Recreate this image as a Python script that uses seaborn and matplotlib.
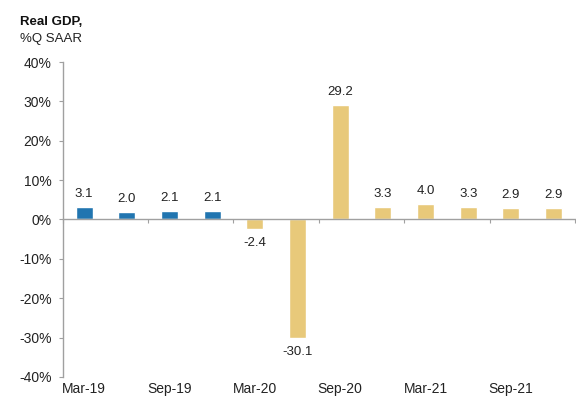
import matplotlib
matplotlib.use("Agg")
import matplotlib.pyplot as plt
import seaborn as sns
import pandas as pd

quarters = ["Mar-19", "Jun-19", "Sep-19", "Dec-19", "Mar-20", "Jun-20",
            "Sep-20", "Dec-20", "Mar-21", "Jun-21", "Sep-21", "Dec-21"]
gdp = [3.1, 2.0, 2.1, 2.1, -2.4, -30.1, 29.2, 3.3, 4.0, 3.3, 2.9, 2.9]
kind = ["Actual"] * 4 + ["Forecast"] * 8
tick_labels = ["Mar-19", "Sep-19", "Mar-20", "Sep-20", "Mar-21", "Sep-21"]
yticks = [-40, -30, -20, -10, 0, 10, 20, 30, 40]

sns.set_theme(style="white")
plt.rcParams["font.family"] = ["Liberation Sans", "DejaVu Sans"]

df = pd.DataFrame({"q": quarters, "v": gdp, "k": kind})

fig = plt.figure(figsize=(5.76, 3.98), dpi=100)
ax = fig.add_axes([0.109, 0.053, 0.889, 0.791])

sns.barplot(data=df, x="q", y="v", hue="k", dodge=False, width=0.4,
            palette={"Actual": "#2175b0", "Forecast": "#e8c97a"},
            legend=False, ax=ax, saturation=1)

ax.set_xlim(-0.5, len(quarters) - 0.5)
ax.set_ylim(-40, 40)
ax.set_xlabel("")
ax.set_ylabel("")

gray = "#a0a0a0"
txt = "#222222"
for s in ["top", "right"]:
    ax.spines[s].set_visible(False)
ax.spines["left"].set_color(gray)
ax.spines["left"].set_linewidth(1.0)
ax.spines["bottom"].set_position(("data", 0))
ax.spines["bottom"].set_color(gray)
ax.spines["bottom"].set_linewidth(1.0)

ax.set_xticks([i - 0.5 for i in range(0, len(quarters) + 1, 2)])
ax.set_xticklabels([])
ax.tick_params(axis="x", direction="out", length=3, width=0.8, color=gray, bottom=True)

ax.set_yticks(yticks)
ax.set_yticklabels([f"{t}%" for t in yticks], fontsize=10, color=txt)
ax.tick_params(axis="y", direction="out", length=3, width=0.8, color=gray, left=True, pad=5)

sec = ax.secondary_xaxis("bottom")
sec.set_xticks(list(range(0, len(quarters), 2)))
sec.set_xticklabels(tick_labels, fontsize=10, color=txt)
sec.tick_params(length=0, pad=4)
sec.spines["bottom"].set_visible(False)

for i, v in enumerate(gdp):
    if v >= 0:
        ax.annotate(f"{v:.1f}", (i, v), xytext=(0, 5), textcoords="offset points",
                    ha="center", va="bottom", fontsize=9.5, color=txt)
    else:
        ax.annotate(f"{v:.1f}", (i, v), xytext=(0, -6), textcoords="offset points",
                    ha="center", va="top", fontsize=9.5, color=txt)

fig.text(20 / 576, 1 - 22 / 398, "Real GDP,", fontsize=9.5, fontweight="bold",
         color="#111111", va="center", ha="left")
fig.text(20 / 576, 1 - 39 / 398, "%Q SAAR", fontsize=9.5, color=txt,
         va="center", ha="left")

fig.savefig("out.png", dpi=100, facecolor="white")
